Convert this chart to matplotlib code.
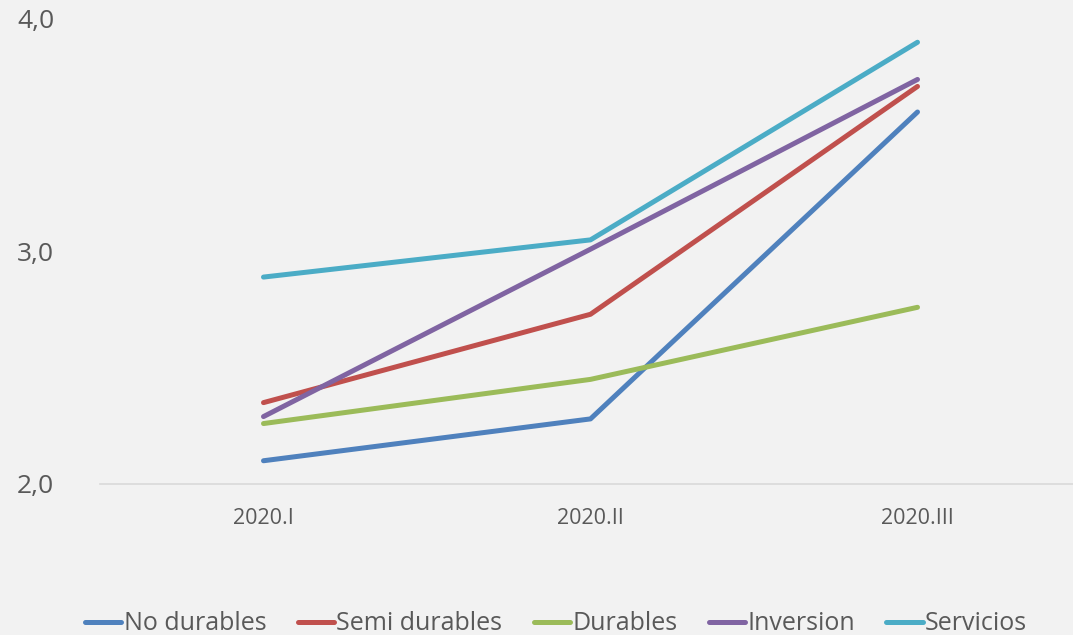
import matplotlib
matplotlib.use("Agg")
import matplotlib.pyplot as plt

quarters = ["2020.I", "2020.II", "2020.III"]
no_durables = [2.10, 2.28, 3.60]
semi_durables = [2.35, 2.73, 3.71]
durables = [2.26, 2.45, 2.76]
inversion = [2.29, 3.01, 3.74]
servicios = [2.89, 3.05, 3.90]

series = [
    ("No durables", no_durables, "#4F81BD"),
    ("Semi durables", semi_durables, "#C0504D"),
    ("Durables", durables, "#9BBB59"),
    ("Inversion", inversion, "#8064A2"),
    ("Servicios", servicios, "#4BACC6"),
]

plt.rcParams['font.family'] = ['Open Sans', 'DejaVu Sans']

fig = plt.figure(figsize=(10.73, 6.35), dpi=100)
fig.patch.set_facecolor("#F2F2F2")
ax = fig.add_axes([100/1073, 151/635, 981/1073, 465/635])
ax.set_facecolor("#F2F2F2")

x = range(len(quarters))
for name, vals, col in series:
    ax.plot(x, vals, color=col, lw=3.6, solid_capstyle="round", label=name)

ax.set_xlim(-0.5, 2.5)
ax.set_ylim(2.0, 4.0)
ax.set_yticks([2.0, 3.0, 4.0])
ax.set_yticklabels(["2,0", "3,0", "4,0"])
ax.set_xticks(list(x))
ax.set_xticklabels(quarters)
ax.tick_params(axis="y", length=0, pad=33, labelsize=19, labelcolor="#595959")
ax.tick_params(axis="x", length=0, pad=17, labelsize=15.5, labelcolor="#595959")
for s in ["top", "right", "left"]:
    ax.spines[s].set_visible(False)
ax.spines["bottom"].set_color("#D9D9D9")
ax.spines["bottom"].set_linewidth(1.2)

leg = fig.legend(loc="center", bbox_to_anchor=(556/1073, 1 - 624/635), ncol=5,
                 frameon=False, fontsize=18, handlelength=1.45, handletextpad=0.1,
                 columnspacing=1.25)
for t in leg.get_texts():
    t.set_color("#595959")

fig.savefig("out.png", dpi=100, facecolor=fig.get_facecolor())
